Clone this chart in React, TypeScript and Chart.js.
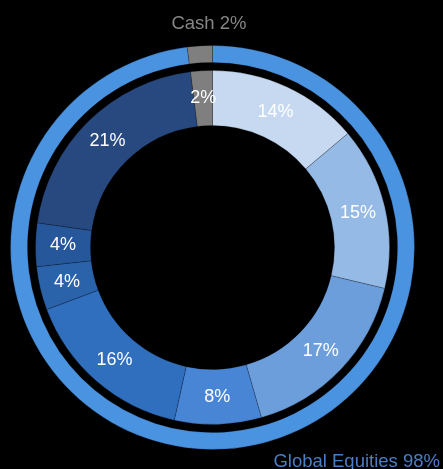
import React, { useEffect, useRef } from "react";
import { Chart, registerables } from "chart.js";

Chart.register(...registerables);

const outerLabels = ["Global Equities", "Cash"];
const outerValues = [98, 2];
const outerColors = ["#4A93E0", "#7F7F7F"];

const innerValues = [14, 15, 17, 8, 16, 4, 4, 21, 2];
const innerLabels = ["14%", "15%", "17%", "8%", "16%", "4%", "4%", "21%", "2%"];
const innerColors = [
  "#C6D9F1",
  "#96BAE6",
  "#6C9EDB",
  "#4885D5",
  "#2F6FBE",
  "#2A63AA",
  "#26579A",
  "#27497F",
  "#7F7F7F",
];

const labelPlugin = {
  id: "labels",
  afterDatasetsDraw(chart: any) {
    const ctx = chart.ctx;
    const meta = chart.getDatasetMeta(2);
    ctx.save();
    ctx.font = '18px "Liberation Sans", Arial, sans-serif';
    ctx.fillStyle = "#FFFFFF";
    ctx.textAlign = "center";
    ctx.textBaseline = "middle";
    meta.data.forEach((arc: any, i: number) => {
      const p = arc.getCenterPoint();
      ctx.fillText(innerLabels[i], p.x, p.y);
    });
    const outerMeta = chart.getDatasetMeta(0);
    const a0 = outerMeta.data[0];
    const cx = a0.x;
    const cy = a0.y;
    ctx.font = '18.5px "Liberation Sans", Arial, sans-serif';
    ctx.textBaseline = "alphabetic";
    ctx.fillStyle = "#858585";
    ctx.fillText(outerLabels[1] + " " + outerValues[1] + "%", cx - 3.5, cy - 219);
    ctx.textAlign = "right";
    ctx.fillStyle = "#4A7EC4";
    ctx.fillText(outerLabels[0] + " " + outerValues[0] + "%", chart.width - 3, chart.height - 2);
    ctx.restore();
  },
};

export default function App() {
  const ref = useRef<HTMLCanvasElement>(null);
  useEffect(() => {
    document.body.style.margin = "0";
    document.body.style.background = "#000";
    const chart = new Chart(ref.current as HTMLCanvasElement, {
      type: "doughnut",
      data: {
        labels: innerLabels,
        datasets: [
          {
            data: outerValues,
            backgroundColor: outerColors,
            borderColor: "rgba(0,0,0,0.2)",
            borderWidth: 1,
            weight: 17,
          },
          {
            data: [1],
            backgroundColor: ["rgba(0,0,0,0)"],
            borderWidth: 0,
            weight: 8,
          },
          {
            data: innerValues,
            backgroundColor: innerColors,
            borderColor: "rgba(0,0,0,0.2)",
            borderWidth: 1,
            weight: 55,
          },
        ],
      },
      options: {
        responsive: false,
        animation: false,
        cutout: "60.4%",
        layout: { padding: { left: 10, right: 28, top: 45, bottom: 19 } },
        plugins: {
          legend: { display: false },
          tooltip: { enabled: false },
        },
      },
      plugins: [labelPlugin],
    } as any);
    return () => chart.destroy();
  }, []);
  return (
    <div style={{ position: "fixed", left: 0, top: 0, width: 443, height: 469, background: "#000" }}>
      <canvas ref={ref} width={443} height={469} style={{ display: "block" }} />
    </div>
  );
}
